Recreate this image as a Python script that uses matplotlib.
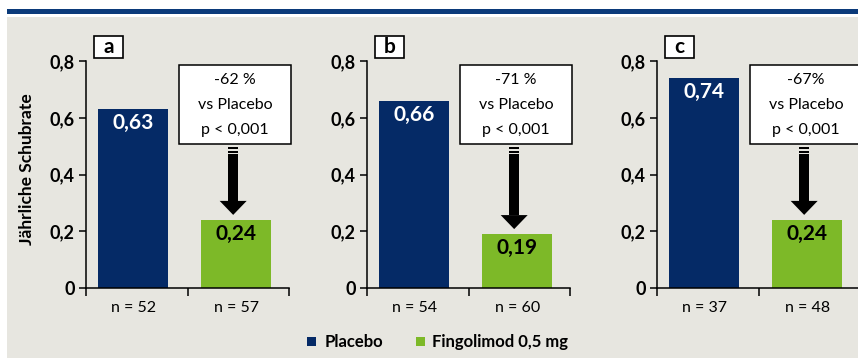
import matplotlib
matplotlib.use("Agg")
import matplotlib.pyplot as plt
from matplotlib.patches import Rectangle, Polygon

# ---- data ----
panels = ["a", "b", "c"]
placebo = [0.63, 0.66, 0.74]
fingolimod = [0.24, 0.19, 0.24]
placebo_labels = ["0,63", "0,66", "0,74"]
fingo_labels = ["0,24", "0,19", "0,24"]
n_placebo = ["n = 52", "n = 54", "n = 37"]
n_fingo = ["n = 57", "n = 60", "n = 48"]
reduction = ["-62 %", "-71 %", "-67%"]
pvals = ["p < 0,001", "p < 0,001", "p < 0,001"]
yticks = [0, 0.2, 0.4, 0.6, 0.8]
ytick_labels = ["0", "0,2", "0,4", "0,6", "0,8"]
legend_labels = ["Placebo", "Fingolimod 0,5 mg"]
ylabel = "Jährliche Schubrate"

NAVY = "#052a66"
GREEN = "#7db928"
BG = "#e7e6e0"
BAND = "#0b3a7a"

W, H = 858, 358
FONT = "Lato"
plt.rcParams["font.family"] = [FONT, "DejaVu Sans"]

fig = plt.figure(figsize=(W / 100, H / 100), dpi=100)
fig.patch.set_facecolor("white")

def fx(px):
    return px / W

def fy(py):
    return 1 - py / H

# background
fig.patches.append(Rectangle((fx(7), fy(358)), fx(858 - 7), 341 / H,
                             transform=fig.transFigure, facecolor=BG, edgecolor="none", zorder=-10))
fig.patches.append(Rectangle((fx(7), fy(13.5)), fx(858 - 7), 4.5 / H,
                             transform=fig.transFigure, facecolor=BAND, edgecolor="none", zorder=-9))

lefts = [86, 367, 657]
ax_w, ax_h = 203, 227  # pixels
PX_X = 2.0 / ax_w      # data units per pixel (x)
PX_Y = 0.8 / ax_h      # data units per pixel (y)
x_pl = 0 - 3.5 * PX_X
x_fg = 1 - 2.0 * PX_X

for i, left in enumerate(lefts):
    ax = fig.add_axes([fx(left), fy(288), ax_w / W, ax_h / H])
    ax.set_facecolor("none")
    ax.set_xlim(-0.5, 1.5)
    ax.set_ylim(0, 0.8)
    for s in ["top", "right"]:
        ax.spines[s].set_visible(False)
    for s in ["left", "bottom"]:
        ax.spines[s].set_linewidth(1.1)
    ax.bar([x_pl, x_fg], [placebo[i], fingolimod[i]], width=0.69,
           color=[NAVY, GREEN], zorder=2)
    ax.set_yticks(yticks)
    ax.set_yticklabels(ytick_labels, fontsize=13, fontweight="bold")
    ax.set_xticks([-0.5, 0.5, 1.5])
    ax.set_xticklabels([])
    ax.tick_params(axis="y", length=5, width=1.1, pad=3)
    ax.tick_params(axis="x", length=6, width=1.1)

    # value labels
    ax.text(x_pl, placebo[i] - 14 * PX_Y, placebo_labels[i], ha="center", va="center",
            color="white", fontsize=15, fontweight="bold", zorder=3)
    ax.text(x_fg, fingolimod[i] - 14 * PX_Y, fingo_labels[i], ha="center", va="center",
            color="black", fontsize=15, fontweight="bold", zorder=3)

    # n labels
    ax.text(x_pl, -20 * PX_Y, n_placebo[i], ha="center", va="center", fontsize=11.5, clip_on=False)
    ax.text(x_fg, -20 * PX_Y, n_fingo[i], ha="center", va="center", fontsize=11.5, clip_on=False)

    # panel letter box
    ax.add_patch(Rectangle((-0.5 + 8 * PX_X, 0.8 + 3 * PX_Y), 29 * PX_X, 22 * PX_Y,
                           facecolor="white", edgecolor="black", linewidth=1.2, clip_on=False, zorder=4))
    ax.text(-0.5 + 22.5 * PX_X, 0.8 + 14 * PX_Y, panels[i], ha="center", va="center",
            fontsize=15, fontweight="bold", clip_on=False, zorder=5)

    # annotation box
    bx0 = -0.5 + 93 * PX_X
    box_top = 0.8 - 4 * PX_Y
    box_bot = 0.8 - 83 * PX_Y
    ax.add_patch(Rectangle((bx0, box_bot), 112 * PX_X, box_top - box_bot,
                           facecolor="white", edgecolor="black", linewidth=1.1, clip_on=False, zorder=4))
    bxc = bx0 + 56 * PX_X
    for j, line in enumerate([reduction[i], "vs Placebo", pvals[i]]):
        ax.text(bxc, 0.8 - (19 + 25 * j) * PX_Y, line, ha="center", va="center",
                fontsize=11.5, clip_on=False, zorder=5)

    # arrow
    xc = 0.95
    sh = 5.3 * PX_X
    hh = 13.5 * PX_X
    d1 = 0.8 - 86 * PX_Y
    tip = fingolimod[i] + 5 * PX_Y
    head_top = tip + 14 * PX_Y
    ax.add_patch(Rectangle((xc - sh, d1 - 1.8 * PX_Y), 2 * sh, 1.8 * PX_Y,
                           facecolor="black", edgecolor="none", zorder=4))
    ax.add_patch(Rectangle((xc - sh, d1 - 5.8 * PX_Y), 2 * sh, 1.8 * PX_Y,
                           facecolor="black", edgecolor="none", zorder=4))
    ax.add_patch(Rectangle((xc - sh, head_top), 2 * sh, (d1 - 7 * PX_Y) - head_top,
                           facecolor="black", edgecolor="none", zorder=4))
    ax.add_patch(Polygon([(xc - hh, head_top), (xc + hh, head_top), (xc, tip)],
                         closed=True, facecolor="black", edgecolor="none", zorder=4))

# y label
fig.text(fx(27), fy(169), ylabel, rotation=90, ha="center", va="center",
         fontsize=12.5, fontweight="bold")

# legend
for (sx, col, tx, lab) in [(307, NAVY, 325, legend_labels[0]), (416, GREEN, 432, legend_labels[1])]:
    fig.patches.append(Rectangle((fx(sx), fy(346)), 9 / W, 9 / H, transform=fig.transFigure,
                                 facecolor=col, edgecolor="none"))
    fig.text(fx(tx), fy(342), lab, ha="left", va="center", fontsize=12, fontweight="bold")

fig.savefig("out.png", dpi=100, facecolor=fig.get_facecolor())
